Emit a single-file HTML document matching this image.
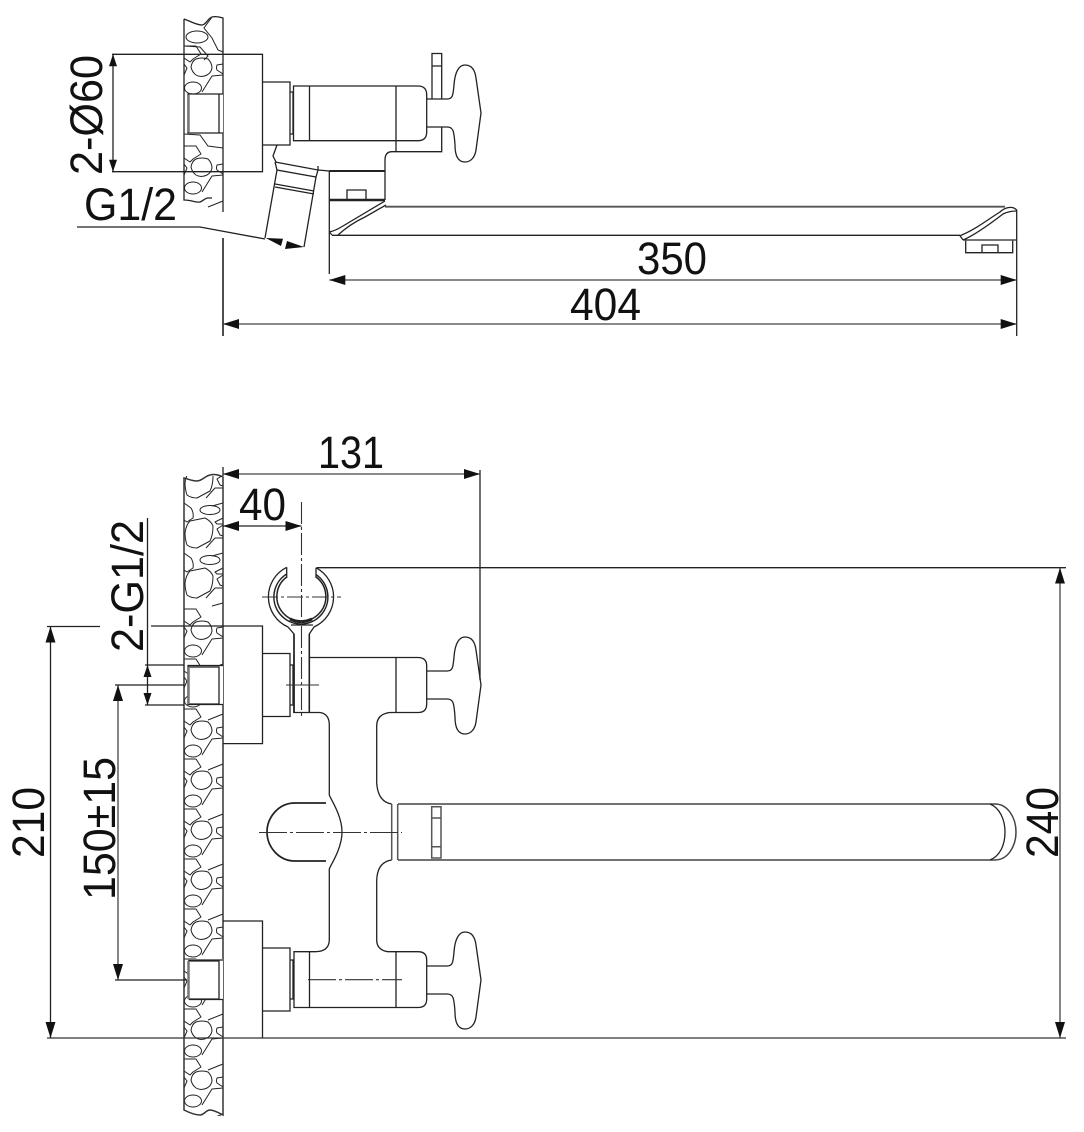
<!DOCTYPE html>
<html><head><meta charset="utf-8"><style>
html,body{margin:0;padding:0;background:#fff}
svg{display:block}
text{font-family:"Liberation Sans",sans-serif;fill:#111;font-size:45px}
</style></head><body>
<svg width="1084" height="1132" viewBox="0 0 1084 1132" xmlns="http://www.w3.org/2000/svg">
<defs>
<marker id="a" markerUnits="userSpaceOnUse" markerWidth="18" markerHeight="12" refX="16" refY="5" orient="auto-start-reverse"><path d="M0,0L16,5L0,10z" fill="#111"/></marker>
<marker id="s" markerUnits="userSpaceOnUse" markerWidth="14" markerHeight="10" refX="12" refY="4" orient="auto-start-reverse"><path d="M0,0L12,4L0,8z" fill="#111"/></marker>
<clipPath id="w1"><rect x="184" y="18" width="39.5" height="194"/></clipPath>
<clipPath id="w2"><rect x="184" y="476" width="39.5" height="640"/></clipPath>
<g id="t1" fill="none" stroke="#222" stroke-width="1" stroke-linejoin="round">
<path d="M7,25Q8,19 12,17Q18,15 24,17Q28,21 28,26Q27,31 23,33Q17,36 12,33Q8,30 7,25z"/>
<ellipse cx="9" cy="46" rx="8.500" ry="6"/>
<path d="M18,50L28,34L39,33M39,59L24,65"/>
<path d="M39,22L33,23Q32,26 33,28L39,32"/>
<path d="M0,22L3,26L0,33"/>
<path d="M0,4H12L17,12L9,17L6,20L0,16"/>
</g>
<g id="t2" fill="none" stroke="#222" stroke-width="1" stroke-linejoin="round">
<path d="M1,30Q2,22 6,18L21,15Q27,18 29,23Q29,32 26,38L13,45Q7,45 3,42Q1,36 1,30z"/>
<ellipse cx="26" cy="7" rx="10" ry="4.500"/>
<path d="M31,19L39,15L39,21L33,21z"/>
<path d="M39,22L33,26L36,32L39,33"/>
<path d="M22,45L31,35L39,35M39,50L28,53"/>
<path d="M0,0L7,5Q10,10 9,15L3,19L0,17"/>
</g>
<path id="h" fill="none" stroke="#222" stroke-width="1.300" d="M427,99H447C453,99 453,95 454,85C455,70 460,65 465,65C472,65 475,70 476,78L481,113L476,150C475,157 471,162 465,162C459,162 455,157 455,145C454,130 453,127 447,127H427"/>
</defs>

<!-- top wall -->
<g clip-path="url(#w1)">
<ellipse cx="197" cy="37" rx="11" ry="6" fill="none" stroke="#222"/>
<path d="M184,46L200,47L208,56L204,60M212,17L204,28L212,38L218,50L223,52" fill="none" stroke="#222" stroke-width="1"/>
<use href="#t1" x="184" y="42"/><use href="#t1" x="184" y="142"/>
<path d="M184,134L200,135L208,146L223,148" fill="none" stroke="#222" stroke-width="1"/>
</g>
<g fill="none" stroke="#222" stroke-width="1.300">
<path d="M184,19V200C192,200 196,203 200,202C203,201 205,198 208,198H212M184,19C192,22 197,25 202,25C206,25 208,18 212,17C216,16 220,17 223,18V212"/>
<path stroke-width="1.600" d="M223,238V336"/>
<rect x="188" y="94" width="35" height="39" fill="#fff" stroke="none"/>
<path d="M223,94H188V133H223M189,94H219V133H189"/>
<path d="M188.500,95V132" stroke="#777" stroke-width="2.500"/>
</g>

<!-- top faucet -->
<g fill="none" stroke="#222" stroke-width="1.300">
<path d="M112,54.300H262.500V171.700H112"/>
<path d="M113,54.300V171.700" marker-start="url(#s)" marker-end="url(#s)"/>
<path d="M262.500,82H290V145H262.500M290,92H293V134H290"/>
<path d="M293.500,86H418Q426.700,86 426.700,95V132Q426.700,140.700 418,140.700H293.500z"/>
<path d="M309.500,86V140.700M396,86V140.700"/>
<path d="M432,99V53.500H441.700V99M432,66H441.700M441.700,127V151.700H392C387,151.700 385,155 385,160V171M396,140.700V151.700"/>
<path d="M277,145L273,156L276,162"/>
<path d="M275,162L318,170L318,166M275,162L277,170L316,177L318,170"/>
<path d="M277,170L265,238M316,177L304,247"/>
<path d="M275,184L314,191M275,187L314,194"/>
<path d="M318,170L329.300,171"/>
<path d="M77,227H200L265,239"/>
<path d="M329.300,171V274"/>
<path d="M329.300,200H385" stroke-width="2.500"/>
<path d="M329.300,171H385" stroke-width="2"/>
<path d="M385,171V200M347,200V190H366V200"/>
<path d="M329,232Q335,231 343,226L385,201M338,235Q350,224 365,217L386,205M329.300,232L332,235"/>
<path d="M385,206.700H1005" stroke-width="1.800" stroke="#555"/>
<path d="M332,235.300H960"/>
<path d="M960,235.700C975,230 990,218 1000,212C1004,208 1012,205 1016.700,210M963,240C975,235 990,224 1003,214C1007,212 1012,211 1016.700,211M960,235.700L963,240M963,240H1016.700"/>
<path d="M965.700,240.700V252.700H1012.700V240.700M982,252.700V245H998V252.700"/>
<path d="M1016.700,210V336"/>
<path d="M329.300,280H1016.700" marker-start="url(#a)" marker-end="url(#a)" stroke="#444"/>
<path d="M223,324H1016.700" marker-start="url(#a)" marker-end="url(#a)" stroke="#444"/>
</g>
<use href="#h"/>
<path d="M265.700,238L283,238.800L281,246zM304,247L287,241L285,249z" fill="#111"/>

<text transform="translate(102,175) rotate(-90)" textLength="120" lengthAdjust="spacingAndGlyphs">2-Ø60</text>
<text x="84" y="220" textLength="93" lengthAdjust="spacingAndGlyphs">G1/2</text>
<text x="637" y="274" textLength="70" lengthAdjust="spacingAndGlyphs">350</text>
<text x="570" y="320" textLength="71" lengthAdjust="spacingAndGlyphs">404</text>

<!-- bottom wall -->
<g clip-path="url(#w2)">
<use href="#t2" x="184" y="453"/><use href="#t2" x="184" y="503"/><use href="#t2" x="184" y="553"/>
<use href="#t1" x="184" y="605"/><use href="#t1" x="184" y="655"/><use href="#t1" x="184" y="705"/><use href="#t1" x="184" y="755"/><use href="#t1" x="184" y="805"/><use href="#t1" x="184" y="855"/><use href="#t1" x="184" y="905"/><use href="#t1" x="184" y="955"/><use href="#t1" x="184" y="1005"/><use href="#t1" x="184" y="1055"/>
</g>
<g fill="none" stroke="#222" stroke-width="1.300">
<path d="M184,478V1110C190,1113 195,1115 200,1115C204,1115 206,1110 210,1110C214,1110 219,1113 223,1115V477C219,475 214,474 210,475C205,476 202,481 197,481C192,481 188,479 184,478z" stroke="#333" stroke-width="1.500"/>
<rect x="188" y="665" width="35" height="40" fill="#fff" stroke="none"/>
<rect x="188" y="959" width="35" height="41" fill="#fff" stroke="none"/>
<path d="M223,665.500H188V704.500H223M188.500,667H219V704H188.500M188,960H223M188.500,961H219V999H188.500M223,999.500H189"/>
<path d="M188.500,667V704M188.500,961V999" stroke="#777" stroke-width="2.500"/>

<!-- plates -->
<path d="M151,626H262.500V743.600H223"/>
<path d="M47,626.500H100" />
<path d="M262.500,653.500H290V716.500H262.500M290,665H293V705H290"/>
<path d="M223,921H262.500V1038M262.500,948H290V1011H262.500M290,960H293V999H290"/>

<!-- upper body -->
<path d="M310,657.500H418Q426.700,657.500 426.700,666V704Q426.700,712.500 418,712.500H396M396,657.500V712.500"/>
<path d="M294,655V712.500H320Q329.300,714 329.300,725V795C330,798 342,815 342,832C342,849 330,866 329.300,869V940Q329,951.700 315,951.700H294V1007.500H418Q426.700,1007.500 426.700,999V960Q426.700,951.700 418,951.700H388Q376.700,950 376.700,940V882Q376.700,862 391.700,860M396,712.500H390Q376.700,714 376.700,726V783Q378,802 391.700,804" />
<path d="M309.500,951.700V1007.500M396,951.700V1007.500"/>
<path d="M326,803Q322,803 318,803H295C278,803 267,818 267,832C267,846 278,861 295,861H326" stroke-width="1.700"/>

<!-- holder -->
<path d="M286.700,567.300A33,33 0 0 0 288,627L294,634V713M316,567.700A33,33 0 0 1 314,627L309.300,634V713"/>
<path d="M286.700,567.300V578M316,567.700V578"/>
<path d="M286.700,574A27,27 0 1 0 316,574.600" stroke-width="1.500"/>
<path d="M286.700,577A24.500,24.500 0 1 0 316,577" stroke-width="1.500"/>
<path d="M290,619A24.500,24.500 0 0 0 312,619" stroke-width="3"/>
<path d="M309.300,634V713M294,634V713" stroke-width="1.600"/>
<path d="M291,625H313" />

<!-- spout -->
<path d="M391.700,804V860M397.700,804V860" stroke="#555" stroke-width="1.500"/>
<path d="M398,804H995C1008,804 1016,818 1016,832C1016,846 1008,860 995,860H398" stroke="#444" stroke-width="1.500"/>
<path d="M990,804C1000,808 1005,820 1005,832C1005,845 1000,856 990,860"/>
<path d="M431.700,806.700H441V858H431.700zM431.700,818H441M431.700,846.700H441" stroke="#555" stroke-width="1.500"/>

<!-- dimensions -->
<path d="M223,467V476M480,470V680"/>
<path d="M223,474H480" stroke="#444" marker-start="url(#a)" marker-end="url(#a)"/>
<path d="M223,526H301.500" stroke="#222" marker-start="url(#a)" marker-end="url(#a)"/>
<path d="M317,567.700H1066"/>
<path d="M47,1038H1066" stroke="#333"/>
<path d="M1060,567.700V1038" marker-start="url(#a)" marker-end="url(#a)" stroke="#444"/>
<path d="M50.500,626.500V1038" marker-start="url(#a)" marker-end="url(#a)"/>
<path d="M118,685V980" marker-start="url(#a)" marker-end="url(#a)" stroke="#444"/>
<path d="M115,685H184M115,980H187"/>
<path d="M147.500,518V705"/>
<path d="M145,665H184M145,705H184"/>
</g>
<path d="M147.500,665L143.500,677H151.500zM147.500,705L143.500,693H151.500z" fill="#111"/>
<use href="#h" y="572"/><use href="#h" y="867"/>
<g fill="none" stroke="#333" stroke-width="1.100">
<path d="M301.500,502V718" stroke-dasharray="22 3 3 3" />
<path d="M262,597H341" stroke-dasharray="16 3 3 3"/>
<path d="M286,685H319"/>
<path d="M259,832.500H402" stroke-dasharray="28 3 3 3"/>
<path d="M308,979.700H402" stroke-dasharray="28 3 3 3"/>
</g>

<text x="318" y="468" textLength="66" lengthAdjust="spacingAndGlyphs">131</text>
<text x="239" y="520" textLength="47" lengthAdjust="spacingAndGlyphs">40</text>
<text transform="translate(143,652) rotate(-90)" textLength="132" lengthAdjust="spacingAndGlyphs">2-G1/2</text>
<text transform="translate(44,858) rotate(-90)" textLength="71" lengthAdjust="spacingAndGlyphs">210</text>
<text transform="translate(115,900) rotate(-90)" textLength="143" lengthAdjust="spacingAndGlyphs">150±15</text>
<text transform="translate(1058,858) rotate(-90)" textLength="71" lengthAdjust="spacingAndGlyphs">240</text>
</svg>
</body></html>
